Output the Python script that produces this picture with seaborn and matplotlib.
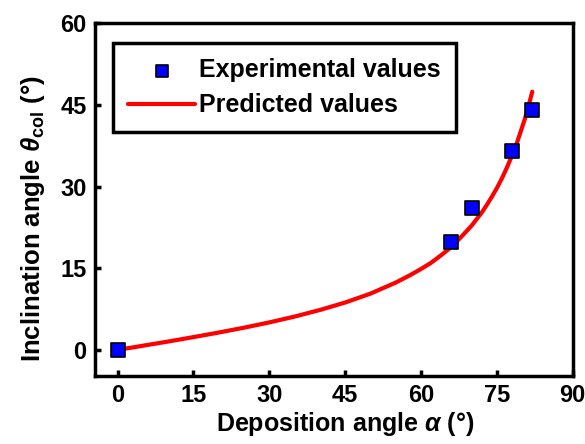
import matplotlib
matplotlib.use("Agg")
import matplotlib.pyplot as plt
import seaborn as sns
import pandas as pd

# Measured column inclination vs deposition angle
exp_alpha = [0, 66, 70, 78, 82]
exp_theta = [0, 19.8, 26.0, 36.5, 44.0]

# Model curve (predicted inclination)
pred_alpha = [0, 5, 10, 15, 20, 25, 30, 35, 40, 45, 50, 55, 58, 60, 62, 64, 66,
              68, 70, 71, 72, 73, 74, 75, 76, 77, 78, 79, 80, 80.5, 81, 81.5, 82]
pred_theta = [0, 0.77, 1.54, 2.35, 3.19, 4.08, 5.05, 6.12, 7.33, 8.70, 10.33,
              12.36, 13.8, 14.86, 16.0, 17.4, 18.9, 20.8, 22.8, 24.0, 25.2,
              26.6, 28.1, 29.7, 31.5, 33.5, 35.7, 38.1, 40.9, 42.3, 43.9,
              45.6, 47.4]

x_ticks = [0, 15, 30, 45, 60, 75, 90]
y_ticks = [0, 15, 30, 45, 60]

sns.set_style("ticks")
font_list = ["Liberation Sans", "DejaVu Sans"]
plt.rcParams["font.family"] = font_list
plt.rcParams["font.weight"] = "bold"
plt.rcParams["text.color"] = "black"
plt.rcParams["axes.labelcolor"] = "black"
plt.rcParams["xtick.color"] = "black"
plt.rcParams["ytick.color"] = "black"
plt.rcParams["axes.edgecolor"] = "black"
plt.rcParams["mathtext.fontset"] = "custom"
plt.rcParams["mathtext.rm"] = "Liberation Sans:bold"
plt.rcParams["mathtext.it"] = "Liberation Sans:italic:bold"
plt.rcParams["mathtext.bf"] = "Liberation Sans:bold"

exp_df = pd.DataFrame({"alpha": exp_alpha, "theta": exp_theta})
pred_df = pd.DataFrame({"alpha": pred_alpha, "theta": pred_theta})

fig = plt.figure(figsize=(5.85, 4.44), dpi=100)
ax = fig.add_axes([0.162, 0.153, 0.817, 0.795])

sns.lineplot(data=pred_df, x="alpha", y="theta", ax=ax, color="#ff0000",
             linewidth=3.0, label="Predicted values", zorder=2)
sns.scatterplot(data=exp_df, x="alpha", y="theta", ax=ax, marker="s",
                s=100, color="#0000ff", edgecolor="black", linewidth=1.2,
                label="Experimental values", zorder=3)

ax.set_xlim(-4.5, 90)
ax.set_ylim(-4.8, 60)
ax.set_xticks(x_ticks)
ax.set_yticks(y_ticks)
ax.tick_params(direction="in", length=4, width=2.5, labelsize=17, pad=6)
for lab in ax.get_xticklabels() + ax.get_yticklabels():
    lab.set_fontweight("bold")
for sp in ax.spines.values():
    sp.set_linewidth(2.5)
    sp.set_visible(True)
    sp.set_color("black")

ax.set_xlabel(r"Deposition angle $\alpha$ (°)", fontsize=18, fontweight="bold")
ax.set_ylabel(r"Inclination angle $\theta_{\rm col}$ (°)", fontsize=18.5, fontweight="bold")
ax.xaxis.set_label_coords(0.523, -0.095)
ax.yaxis.set_label_coords(-0.10, 0.447)

handles, labels = ax.get_legend_handles_labels()
order = [labels.index("Experimental values"), labels.index("Predicted values")]
leg = ax.legend([handles[i] for i in order], [labels[i] for i in order],
                loc="upper left", bbox_to_anchor=(0.038, 0.943), borderaxespad=0,
                frameon=True, fancybox=False, handlelength=2.7, markerscale=0.8,
                labelspacing=0.45, handletextpad=0.15, borderpad=0.6,
                prop={"family": font_list, "weight": "bold", "size": 18})
leg.get_frame().set_edgecolor("black")
leg.get_frame().set_linewidth(2.5)
leg.get_frame().set_alpha(1)

fig.savefig("out.png", dpi=100)
